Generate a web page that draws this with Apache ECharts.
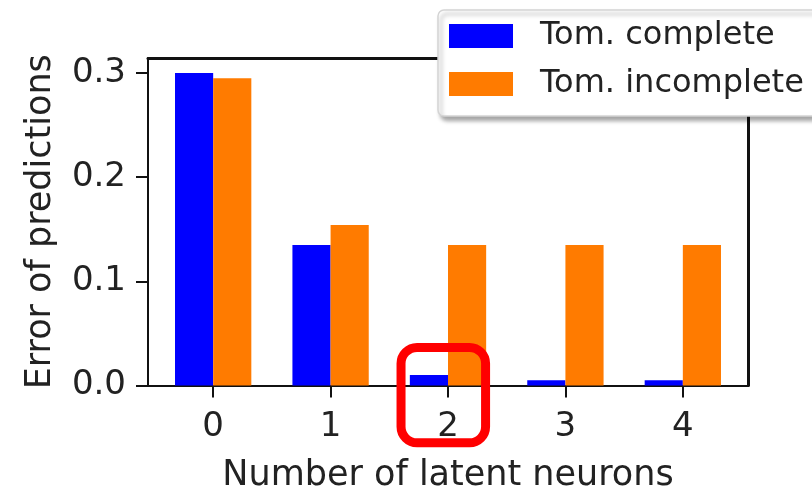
<!DOCTYPE html>
<html>
<head>
<meta charset="utf-8">
<script src="https://cdn.jsdelivr.net/npm/echarts@6/dist/echarts.min.js"></script>
<style>
  html, body { margin: 0; padding: 0; background: #fff; }
  #chart { width: 812px; height: 491px; }
</style>
</head>
<body>
<div id="chart"></div>
<script>
// Prediction error against the number of latent neurons
const categories = ['0', '1', '2', '3', '4'];
const tomComplete = [0.300, 0.135, 0.010, 0.005, 0.005];
const tomIncomplete = [0.295, 0.154, 0.135, 0.135, 0.135];
const yTicks = [0.0, 0.1, 0.2, 0.3];

// highlight frame around category "2" (data units: x from/to, y from/to)
const highlightBox = [[1.60, 2.32, 0.0365, -0.055]];

const BAR_W = 0.325;
const FONT = 'DejaVu Sans';
const TEXT = '#222';

const positions = categories.map((c, i) => i);

function barSeries(name, values, offset, color) {
  return {
    name: name,
    type: 'custom',
    itemStyle: { color: color },
    data: values.map((v, i) => [positions[i], v]),
    renderItem: function (params, api) {
      const x = api.value(0), y = api.value(1);
      const p0 = api.coord([x + offset, y]);
      const p1 = api.coord([x + offset + BAR_W, 0]);
      return {
        type: 'rect',
        shape: { x: p0[0], y: p0[1], width: p1[0] - p0[0], height: p1[1] - p0[1] },
        style: { fill: color }
      };
    }
  };
}

const chart = echarts.init(document.getElementById('chart'), null, { renderer: 'canvas' });

chart.setOption({
  animation: false,
  backgroundColor: '#ffffff',
  textStyle: { fontFamily: FONT },
  grid: { left: 148, right: 64, top: 58, bottom: 105.5, containLabel: false, outerBoundsMode: 'none' },
  legend: {
    left: 438, top: 10,
    orient: 'vertical',
    icon: 'rect',
    itemWidth: 64, itemHeight: 24,
    itemGap: 16, itemTextGap: 27,
    padding: [10, 16, 16, 11],
    backgroundColor: '#ffffff',
    borderColor: '#d4d4d4', borderWidth: 1.5, borderRadius: 6,
    shadowColor: 'rgba(0,0,0,0.35)', shadowBlur: 4, shadowOffsetX: 3, shadowOffsetY: 4,
    textStyle: { fontFamily: FONT, fontSize: 32, color: TEXT, padding: [0, 0, 0, 22] },
    data: ['Tom. complete', 'Tom. incomplete']
  },
  xAxis: [{
    type: 'value',
    min: -0.555, max: 4.555,
    position: 'bottom',
    name: 'Number of latent neurons',
    nameLocation: 'middle', nameGap: 73,
    nameTextStyle: { fontFamily: FONT, fontSize: 35, color: TEXT },
    splitLine: { show: false },
    axisLine: { show: true, onZero: false, lineStyle: { color: '#111', width: 2 } },
    axisTick: { show: true, length: 12, lineStyle: { color: '#111', width: 2 }, customValues: positions },
    axisLabel: {
      show: true, margin: 25, fontFamily: FONT, fontSize: 34, color: TEXT,
      customValues: positions,
      formatter: v => categories[Math.round(v)]
    }
  }, {
    type: 'value', min: -0.555, max: 4.555, position: 'top',
    splitLine: { show: false }, axisTick: { show: false }, axisLabel: { show: false },
    axisLine: { show: true, onZero: false, lineStyle: { color: '#111', width: 3 } }
  }],
  yAxis: [{
    type: 'value',
    min: 0, max: 0.3144,
    position: 'left',
    name: 'Error of predictions',
    nameLocation: 'middle', nameGap: 90, nameRotate: 90,
    nameTextStyle: { fontFamily: FONT, fontSize: 35, color: TEXT },
    splitLine: { show: false },
    axisLine: { show: true, onZero: false, lineStyle: { color: '#111', width: 2 } },
    axisTick: { show: true, length: 12, lineStyle: { color: '#111', width: 2 }, customValues: yTicks },
    axisLabel: {
      show: true, margin: 22, fontFamily: FONT, fontSize: 34, color: TEXT,
      customValues: yTicks,
      formatter: v => v.toFixed(1)
    }
  }, {
    type: 'value', min: 0, max: 0.3144, position: 'right',
    splitLine: { show: false }, axisTick: { show: false }, axisLabel: { show: false },
    axisLine: { show: true, onZero: false, lineStyle: { color: '#111', width: 3 } }
  }],
  series: [
    barSeries('Tom. complete', tomComplete, -BAR_W, '#0000ff'),
    barSeries('Tom. incomplete', tomIncomplete, 0, '#ff7b00'),
    {
      type: 'custom',
      name: 'highlight',
      clip: false,
      z: 5,
      silent: true,
      data: highlightBox,
      renderItem: function (params, api) {
        const a = api.coord([api.value(0), api.value(2)]);
        const b = api.coord([api.value(1), api.value(3)]);
        return {
          type: 'rect',
          shape: { x: a[0], y: a[1], width: b[0] - a[0], height: b[1] - a[1], r: 16 },
          style: { fill: 'none', stroke: '#ff0000', lineWidth: 9 }
        };
      }
    }
  ]
});
</script>
</body>
</html>
